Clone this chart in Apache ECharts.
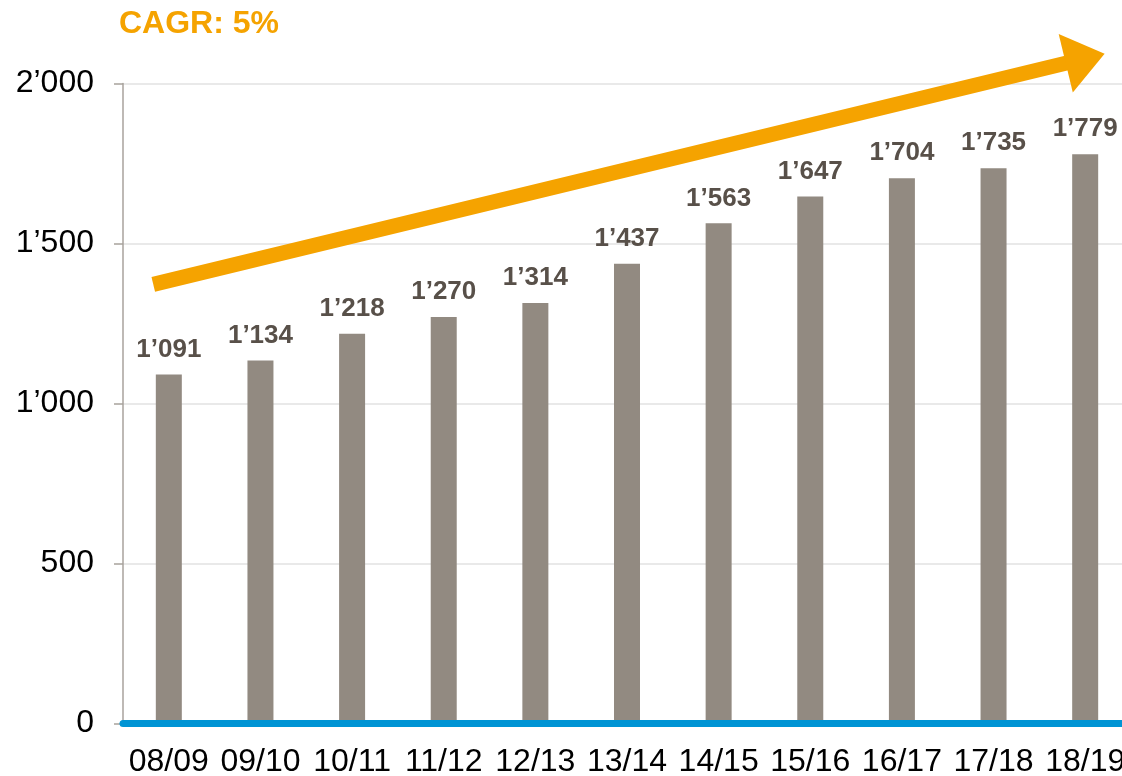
<!DOCTYPE html>
<html style="height: 100%">
<head>
<meta charset="utf-8">
<title>CAGR</title>
<script src="https://cdn.jsdelivr.net/npm/echarts@6/dist/echarts.min.js"></script>
</head>
<body style="height: 100%; margin: 0; background: #fff">
<div id="container" style="width: 1122px; height: 776px"></div>
<script type="text/javascript">
// categories and values
var years = ['08/09', '09/10', '10/11', '11/12', '12/13', '13/14', '14/15', '15/16', '16/17', '17/18', '18/19'];
var values = [1091, 1134, 1218, 1270, 1314, 1437, 1563, 1647, 1704, 1735, 1779];
var yTicks = [0, 500, 1000, 1500, 2000];
// the CAGR arrow runs through these values at the first and last category
var cagrLine = [1384, 2078];
var cagrText = 'CAGR: 5%';

var font = "'Liberation Sans', Arial, sans-serif";

// 1779 -> 1’779
function fmt(n) {
	if (n < 1000) return String(n);
	var rest = String(n % 1000);
	while (rest.length < 3) rest = '0' + rest;
	return Math.floor(n / 1000) + '\u2019' + rest;
}

var myChart = echarts.init(document.getElementById('container'));

var option = {
	animation: false,
	title: {
		text: cagrText,
		left: 119,
		top: 8,
		padding: 0,
		textStyle: {
			color: '#f5a300',
			fontFamily: font,
			fontWeight: 'bold',
			fontSize: 32
		}
	},
	grid: {
		left: 123,
		width: 1008,
		top: 83.5,
		bottom: 52.5,
		containLabel: false,
		outerBoundsMode: 'none'
	},
	xAxis: {
		type: 'category',
		data: years,
		z: 5,
		axisLine: {
			lineStyle: { color: '#0094d4', width: 7 }
		},
		axisTick: { show: false },
		axisLabel: {
			color: '#000',
			fontFamily: font,
			fontSize: 32,
			margin: 23,
			interval: 0
		}
	},
	yAxis: {
		type: 'value',
		min: yTicks[0],
		max: yTicks[yTicks.length - 1],
		interval: yTicks[1] - yTicks[0],
		axisLine: {
			show: true,
			lineStyle: { color: '#a8a29c', width: 1.5 }
		},
		axisTick: {
			show: true,
			length: 9,
			lineStyle: { color: '#a8a29c', width: 1.5 }
		},
		splitLine: {
			lineStyle: { color: '#e2e2e2', width: 1.5 }
		},
		axisLabel: {
			color: '#000',
			fontFamily: font,
			fontSize: 32,
			margin: 29,
			formatter: fmt
		}
	},
	series: [{
		type: 'bar',
		data: values,
		barWidth: 26,
		itemStyle: { color: '#928a81' },
		label: {
			show: true,
			position: 'top',
			distance: 12,
			color: '#585049',
			fontFamily: font,
			fontWeight: 'bold',
			fontSize: 26,
			formatter: function (p) { return fmt(p.value); }
		}
	}]
};

myChart.setOption(option);

// arrow placed through the axes' own scales
var p0 = myChart.convertToPixel({ gridIndex: 0 }, [0, cagrLine[0]]);
var p1 = myChart.convertToPixel({ gridIndex: 0 }, [years.length - 1, cagrLine[1]]);
var dx = p1[0] - p0[0], dy = p1[1] - p0[1];
var len = Math.sqrt(dx * dx + dy * dy);
var ux = dx / len, uy = dy / len;
var nx = -uy, ny = ux;
var start = [p0[0] - 16 * ux, p0[1] - 16 * uy];
var tip = [p1[0] + 20 * ux, p1[1] + 20 * uy];
var base = [tip[0] - 40 * ux, tip[1] - 40 * uy];

myChart.setOption({
	graphic: [{
		type: 'line',
		z: 100,
		shape: { x1: start[0], y1: start[1], x2: base[0] + 2 * ux, y2: base[1] + 2 * uy },
		style: { stroke: '#f5a300', lineWidth: 15 }
	}, {
		type: 'polygon',
		z: 100,
		shape: {
			points: [
				tip,
				[base[0] + 30 * nx, base[1] + 30 * ny],
				[base[0] - 30 * nx, base[1] - 30 * ny]
			]
		},
		style: { fill: '#f5a300' }
	}]
});
</script>
</body>
</html>
